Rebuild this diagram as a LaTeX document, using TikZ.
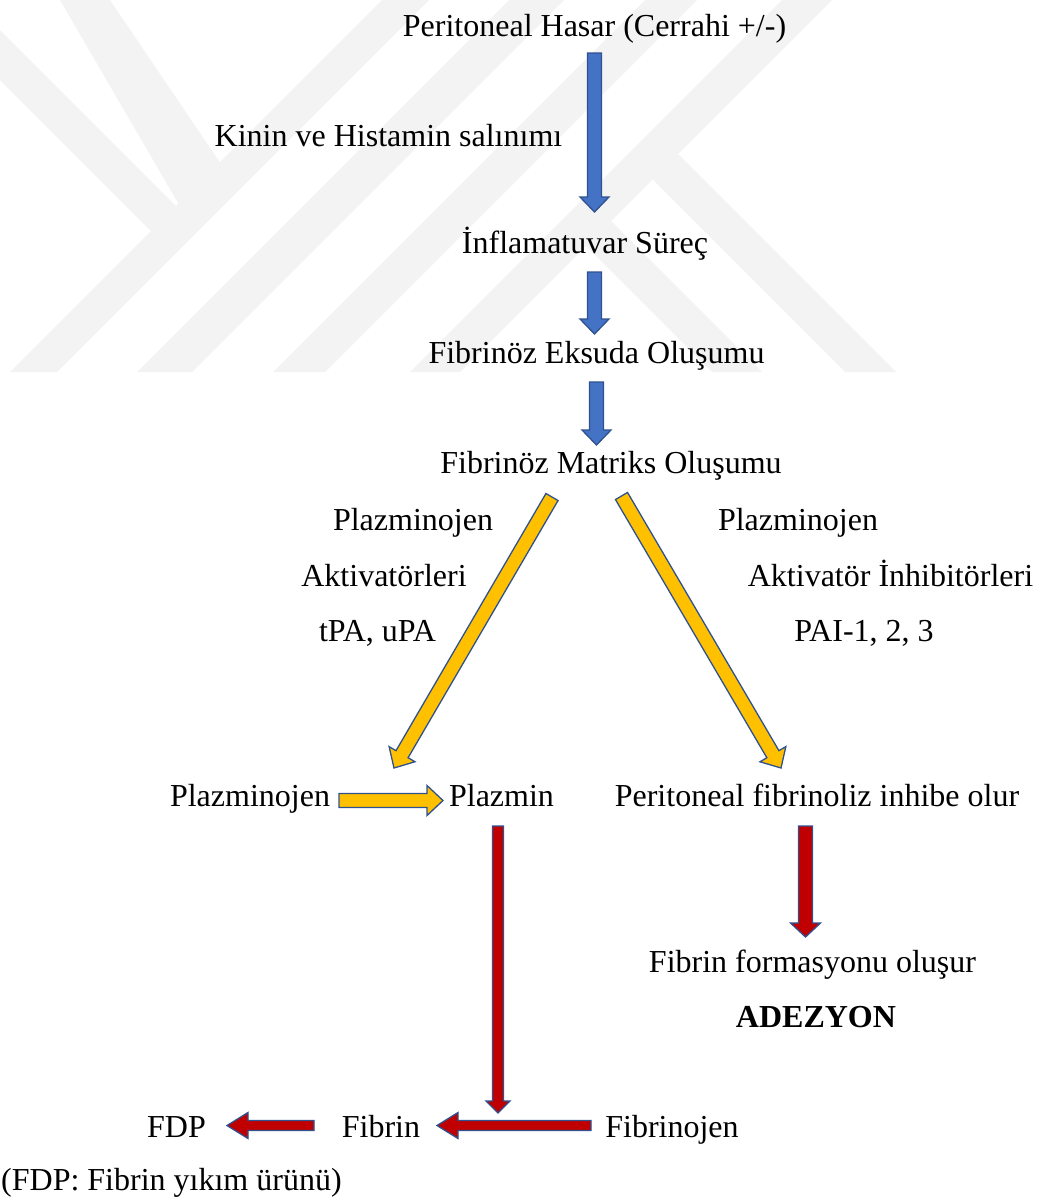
\documentclass[tikz,border=0pt]{standalone}
\usepackage{fontspec}
\setmainfont{Liberation Serif}
\usepackage{xcolor}
\usepackage{tikz}
\usetikzlibrary{calc}
\definecolor{arrblue}{RGB}{68,114,196}
\definecolor{arryellow}{RGB}{255,192,0}
\definecolor{arrred}{RGB}{192,0,0}
\definecolor{arrline}{RGB}{47,82,143}
\definecolor{wmgray}{RGB}{243,243,243}
\tikzset{
  txt/.style={anchor=base, inner sep=0pt, font=\fontsize{32}{38}\selectfont},
  txt_b/.style={txt, font=\fontsize{32}{38}\selectfont\bfseries},
  barr/.style={draw=arrline, line width=1.3pt, line join=miter},
  barr_b/.style={barr, fill=arrblue},
  barr_y/.style={barr, fill=arryellow},
  barr_r/.style={barr, fill=arrred},
  wmark/.style={fill=wmgray, draw=none}
}
\newcommand{\blockarrow}[6]{%
  \coordinate (ba_h) at ($(#3)!#6!(#2)$);
  \filldraw[#1] ($(#2)!#4!90:(#3)$) -- ($(ba_h)!#4!90:(#3)$) -- ($(ba_h)!#5!90:(#3)$) -- (#3)
    -- ($(ba_h)!#5!-90:(#3)$) -- ($(ba_h)!#4!-90:(#3)$) -- ($(#2)!#4!-90:(#3)$) -- cycle;
}

\begin{document}
\begin{tikzpicture}[x=1pt, y=-1pt]
\useasboundingbox (0,0) rectangle (1046,1200);

\begin{scope}
  \clip (0,0) rectangle (1046,372);
  \fill[wmark] (60,0) -- (110,0) -- (225,170) -- (185,215) -- cycle;
  \fill[wmark] (0,30) -- (195,225) -- (160,240) -- (0,80) -- cycle;
  \fill[wmark] (10,372) -- (57,372) -- (429,0) -- (382,0) -- cycle;
  \fill[wmark] (137,372) -- (192,372) -- (564,0) -- (509,0) -- cycle;
  \fill[wmark] (273,372) -- (325,372) -- (697,0) -- (645,0) -- cycle;
  \fill[wmark] (410,372) -- (460,372) -- (832,0) -- (782,0) -- cycle;
  \fill[wmark] (670,146) -- (896,372) -- (845,372) -- (640,167) -- cycle;
  \fill[wmark] (600,210) -- (762,372) -- (712,372) -- (575,235) -- cycle;
\end{scope}

\node[txt] (hasar) at (594.5,36) {Peritoneal Hasar (Cerrahi +/-)};
\node[txt] (kinin) at (388.5,146) {Kinin ve Histamin salınımı};
\node[txt] (inflam) at (585,253) {İnflamatuvar Süreç};
\node[txt] (eksuda) at (596.5,363) {Fibrinöz Eksuda Oluşumu};
\node[txt] (matriks) at (611,473) {Fibrinöz Matriks Oluşumu};
\node[txt] (pajL) at (413,530) {Plazminojen};
\node[txt] (aktL) at (384,586) {Aktivatörleri};
\node[txt] (tpa) at (377.5,641) {tPA, uPA};
\node[txt] (pajR) at (798,530) {Plazminojen};
\node[txt] (aktR) at (890.5,586) {Aktivatör İnhibitörleri};
\node[txt] (pai) at (864,641) {PAI-1, 2, 3};
\node[txt] (plg) at (250,806) {Plazminojen};
\node[txt] (plm) at (501.5,806) {Plazmin};
\node[txt] (inh) at (817,806) {Peritoneal fibrinoliz inhibe olur};
\node[txt] (form) at (812.5,972) {Fibrin formasyonu oluşur};
\node[txt_b] (adez) at (816,1027) {ADEZYON};
\node[txt] (fdp) at (176.5,1137) {FDP};
\node[txt] (fib) at (381,1137) {Fibrin};
\node[txt] (fibg) at (672,1137) {Fibrinojen};
\node[txt, anchor=base west] (note) at (1,1190) {(FDP: Fibrin yıkım ürünü)};

\coordinate (b1s) at ($(hasar.base)+(0,17)$);
\coordinate (b1e) at ($(hasar.base |- inflam.base)+(0,-41)$);
\coordinate (b2s) at ($(hasar.base |- inflam.base)+(0,19)$);
\coordinate (b2e) at ($(hasar.base |- eksuda.base)+(0,-29)$);
\coordinate (b3s) at ($(eksuda.base)+(0,19)$);
\coordinate (b3e) at ($(eksuda.base |- matriks.base)+(0,-28)$);
\coordinate (y1s) at ($(matriks.base)+(-59,24)$);
\coordinate (y1e) at ($(plm.base)+(-107.5,-38)$);
\coordinate (y2s) at ($(matriks.base)+(10.5,23)$);
\coordinate (y2e) at ($(inh.base)+(-36,-38)$);
\coordinate (y3s) at ($(plg.base)+(89,-5.5)$);
\coordinate (y3e) at ($(plm.base)+(-58.5,-5.5)$);
\coordinate (r1s) at ($(plm.base)+(-3.5,20)$);
\coordinate (r1e) at ($(plm.base |- fib.base)+(-3.5,-24)$);
\coordinate (r2s) at ($(inh.base)+(-11.5,20)$);
\coordinate (r2e) at ($(inh.base |- form.base)+(-11.5,-35)$);
\coordinate (r3s) at ($(fibg.base)+(-81,-11.5)$);
\coordinate (r3e) at ($(fib.base)+(56,-11.5)$);
\coordinate (r4s) at ($(fib.base)+(-67,-11.5)$);
\coordinate (r4e) at ($(fdp.base)+(50.5,-11.5)$);

\blockarrow{barr_b}{b1s}{b1e}{7pt}{14.5pt}{15pt}
\blockarrow{barr_b}{b2s}{b2e}{7pt}{14.5pt}{15pt}
\blockarrow{barr_b}{b3s}{b3e}{7pt}{14.5pt}{15pt}
\blockarrow{barr_y}{y1s}{y1e}{7pt}{15pt}{16pt}
\blockarrow{barr_y}{y2s}{y2e}{7pt}{15pt}{16pt}
\blockarrow{barr_y}{y3s}{y3e}{7pt}{15pt}{16pt}
\blockarrow{barr_r}{r1s}{r1e}{5.5pt}{12pt}{12pt}
\blockarrow{barr_r}{r2s}{r2e}{7pt}{15pt}{14pt}
\blockarrow{barr_r}{r3s}{r3e}{5pt}{13pt}{21pt}
\blockarrow{barr_r}{r4s}{r4e}{5pt}{13pt}{21pt}
\end{tikzpicture}
\end{document}
